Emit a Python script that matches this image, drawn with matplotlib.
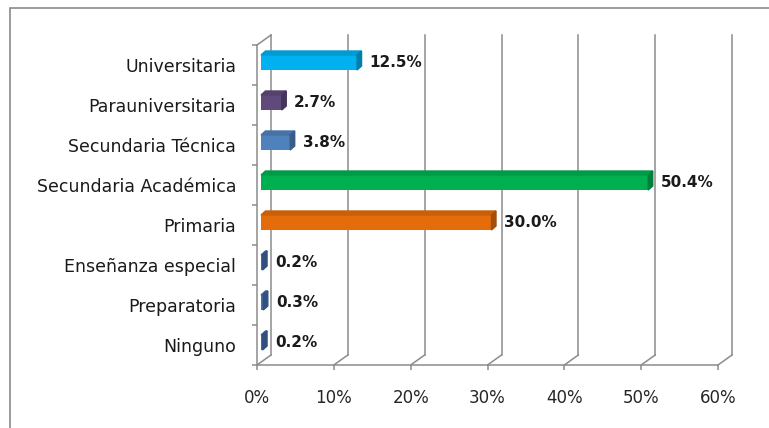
import matplotlib.pyplot as plt
import matplotlib.colors as mcolors
from matplotlib.patches import Polygon, Rectangle

# datos (de abajo hacia arriba)
categorias = ['Ninguno', 'Preparatoria', 'Enseñanza especial', 'Primaria',
              'Secundaria Académica', 'Secundaria Técnica', 'Parauniversitaria',
              'Universitaria']
valores = [0.2, 0.3, 0.2, 30.0, 50.4, 3.8, 2.7, 12.5]
colores = ['#4470AC', '#4470AC', '#4470AC', '#E46C0A',
           '#00B050', '#4F81BD', '#604A7B', '#00B0F0']
xticks = [0, 10, 20, 30, 40, 50, 60]

gris = '#8c8c8c'

fig = plt.figure(figsize=(7.69, 4.28), dpi=100)
ax = fig.add_axes([257 / 769, 63 / 428, 461 / 769, 320 / 428])
ax.set_xlim(0, 60)
ax.set_ylim(-0.5, len(categorias) - 0.5)

# pixeles -> unidades de datos
px_x = 60 / 461
px_y = 8 / 320

# desplazamiento de la pared del fondo
fx, fy = 14 * px_x, 10 * px_y
ymin, ymax = -0.5, len(categorias) - 0.5

for t in xticks:
    ax.plot([t + fx, t + fx], [ymin + fy, ymax + fy], color=gris, lw=1.1, clip_on=False, zorder=1)
    ax.plot([t, t + fx], [ymin, ymin + fy], color=gris, lw=1.1, clip_on=False, zorder=1)
ax.plot([0, fx], [ymax, ymax + fy], color=gris, lw=1.1, clip_on=False, zorder=1)

# barras con efecto 3D
bx, by = 4 * px_x, 2.5 * px_y
dx, dy = 4.5 * px_x, 4 * px_y
h = 0.375
for i, (v, c) in enumerate(zip(valores, colores)):
    y = i + by
    ax.barh(y, v, left=bx, height=h, color=c, zorder=3)
    top = tuple(k * 0.88 for k in mcolors.to_rgb(c))
    lado = tuple(k * 0.72 for k in mcolors.to_rgb(c))
    ax.add_patch(Polygon([(bx, y + h / 2), (bx + v, y + h / 2),
                          (bx + v + dx, y + h / 2 + dy), (bx + dx, y + h / 2 + dy)],
                         closed=True, color=top, zorder=3, clip_on=False))
    ax.add_patch(Polygon([(bx + v, y - h / 2), (bx + v, y + h / 2),
                          (bx + v + dx, y + h / 2 + dy), (bx + v + dx, y - h / 2 + dy)],
                         closed=True, color=lado, zorder=3, clip_on=False))
    ax.text(bx + v + dx + 8 * px_x, y, f'{v:.1f}%', va='center', ha='left',
            fontsize=11, fontweight='bold', color='#1a1a1a', zorder=4)

# ejes
for s in ['top', 'right']:
    ax.spines[s].set_visible(False)
for s in ['left', 'bottom']:
    ax.spines[s].set_color(gris)
    ax.spines[s].set_linewidth(1.1)

ax.set_xticks(xticks)
ax.set_xticklabels([f'{t}%' for t in xticks])
ax.set_yticks(range(len(categorias)))
ax.set_yticklabels(categorias)
ax.set_yticks([k - 0.5 for k in range(len(categorias) + 1)], minor=True)
ax.tick_params(axis='x', length=3.6, width=1.1, color=gris, pad=14,
               labelsize=12, labelcolor='#262626')
ax.tick_params(axis='y', which='major', length=0, pad=15,
               labelsize=12.5, labelcolor='#1a1a1a')
ax.tick_params(axis='y', which='minor', length=3.6, width=1.1, color=gris)

# marco del grafico
fig.patches.append(Rectangle((10 / 769, -0.1), 2, 1 - 8 / 428 + 0.1,
                             transform=fig.transFigure, fill=False,
                             edgecolor='#8a8a8a', lw=1.2))

fig.savefig('out.png', dpi=100)
